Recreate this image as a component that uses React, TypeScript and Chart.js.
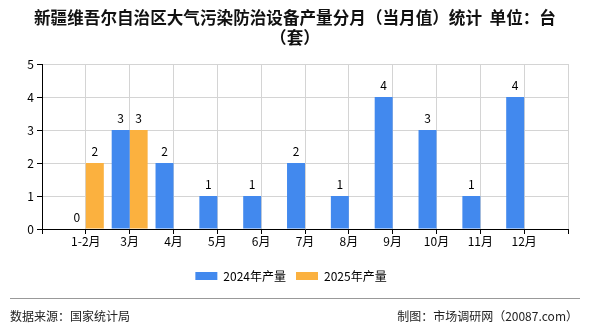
import React, { useEffect, useRef } from "react";
import { Chart, registerables } from "chart.js";

Chart.register(...registerables);

const categories = ["", "1-2月", "3月", "4月", "5月", "6月", "7月", "8月", "9月", "10月", "11月", "12月", ""];
const series2024 = [null, 0, 3, 2, 1, 1, 2, 1, 4, 3, 1, 4, null];
const series2025 = [null, 2, 3, null, null, null, null, null, null, null, null, null, null];
const seriesNames = ["2024年产量", "2025年产量"];
const yTicks = [0, 1, 2, 3, 4, 5];
const titleLine1 = "新疆维吾尔自治区大气污染防治设备产量分月（当月值）统计  单位：台";
const titleLine2 = "（套）";
const sourceText = "数据来源：国家统计局";
const creditText = "制图：市场调研网（20087.com）";

const FONT = "'Noto Sans CJK SC', sans-serif";

const valueLabels = {
  id: "valueLabels",
  afterDatasetsDraw(chart: any) {
    const ctx = chart.ctx;
    ctx.save();
    ctx.font = `12px ${FONT}`;
    ctx.fillStyle = "#000";
    ctx.textAlign = "center";
    ctx.textBaseline = "bottom";
    chart.data.datasets.forEach((ds: any, di: number) => {
      const meta = chart.getDatasetMeta(di);
      meta.data.forEach((el: any, i: number) => {
        const v = ds.data[i];
        if (v === null || v === undefined) return;
        ctx.fillText(String(v), el.x, el.y - 6);
      });
    });
    ctx.restore();
  },
};

const legendShift = {
  id: "legendShift",
  afterLayout(chart: any) {
    if (chart.legend) {
      chart.legend.left += 7;
      chart.legend.right += 7;
    }
  },
};

export default function App() {
  const ref = useRef<HTMLCanvasElement>(null);
  useEffect(() => {
    const chart = new Chart(ref.current!, {
      type: "bar",
      data: {
        labels: categories,
        datasets: [
          { label: seriesNames[0], data: series2024, backgroundColor: "#4289EE" },
          { label: seriesNames[1], data: series2025, backgroundColor: "#FBB13F" },
        ],
      },
      options: {
        animation: false,
        responsive: false,
        devicePixelRatio: 1,
        layout: { padding: { top: 64, right: 22, left: 0, bottom: 38 } },
        datasets: { bar: { categoryPercentage: 0.82, barPercentage: 1 } },
        scales: {
          x: {
            offset: false,
            grid: { color: "#d4d4d4", tickColor: "#000", tickLength: 5, offset: false },
            border: { color: "#000" },
            ticks: { color: "#000", font: { size: 12, family: FONT }, padding: 0, maxRotation: 0, autoSkip: false },
            afterFit: (s: any) => { s.height = 31; },
          },
          y: {
            min: 0,
            max: 5,
            afterBuildTicks: (s: any) => { s.ticks = yTicks.map((v) => ({ value: v })); },
            grid: { color: "#d4d4d4", tickColor: "#000", tickLength: 5 },
            border: { color: "#000" },
            ticks: { color: "#000", font: { size: 12, family: FONT }, padding: 3 },
            afterFit: (s: any) => { s.width = 42; },
          },
        },
        plugins: {
          legend: {
            position: "bottom",
            labels: { boxWidth: 22, boxHeight: 8, padding: 10, color: "#000", font: { size: 12, family: FONT } },
          },
          tooltip: { enabled: false },
          title: { display: false },
        },
      },
      plugins: [valueLabels, legendShift],
    });
    return () => chart.destroy();
  }, []);

  return (
    <div style={{ position: "absolute", left: 0, top: 0, width: 590, height: 330, background: "#fff", fontFamily: FONT }}>
      <canvas ref={ref} width={590} height={330} style={{ position: "absolute", left: 0, top: 0 }} />
      <div
        style={{
          position: "absolute",
          left: 0,
          top: 7,
          width: 590,
          textAlign: "center",
          fontSize: 16.6,
          fontWeight: "bold",
          lineHeight: "20px",
          color: "#111",
          whiteSpace: "pre",
        }}
      >
        {titleLine1}
        <br />
        {titleLine2}
      </div>
      <div style={{ position: "absolute", left: 10, top: 298, width: 570, height: 1, background: "#999" }} />
      <div style={{ position: "absolute", left: 10, top: 307, fontSize: 12, lineHeight: "18px", color: "#222" }}>{sourceText}</div>
      <div style={{ position: "absolute", right: 12, top: 307, fontSize: 12, lineHeight: "18px", color: "#222" }}>{creditText}</div>
    </div>
  );
}
